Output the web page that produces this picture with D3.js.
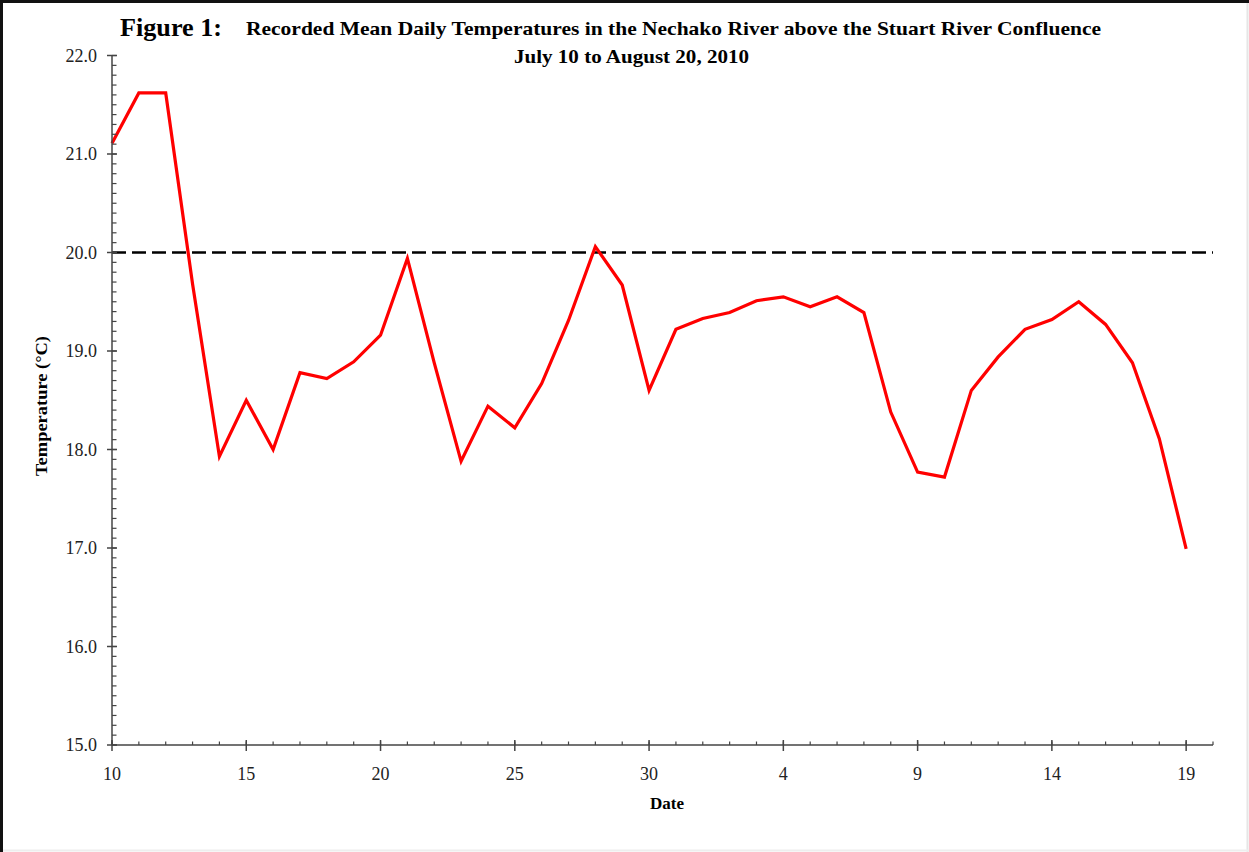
<!DOCTYPE html>
<html>
<head>
<meta charset="utf-8">
<script src="https://cdn.jsdelivr.net/npm/d3@7"></script>
<style>
  html, body { margin: 0; padding: 0; background: #fff; }
  svg { display: block; }
</style>
</head>
<body>
<svg id="chart" width="1249" height="852"></svg>
<script>
// ---- Data ----
const dates = [
  "2010-07-10","2010-07-11","2010-07-12","2010-07-13","2010-07-14","2010-07-15","2010-07-16",
  "2010-07-17","2010-07-18","2010-07-19","2010-07-20","2010-07-21","2010-07-22","2010-07-23",
  "2010-07-24","2010-07-25","2010-07-26","2010-07-27","2010-07-28","2010-07-29","2010-07-30",
  "2010-07-31","2010-08-01","2010-08-02","2010-08-03","2010-08-04","2010-08-05","2010-08-06",
  "2010-08-07","2010-08-08","2010-08-09","2010-08-10","2010-08-11","2010-08-12","2010-08-13",
  "2010-08-14","2010-08-15","2010-08-16","2010-08-17","2010-08-18","2010-08-19"
];
const temps = [
  21.11, 21.62, 21.62, 19.68, 17.93, 18.50, 18.00,
  18.78, 18.72, 18.89, 19.16, 19.94, 18.88, 17.88,
  18.44, 18.22, 18.67, 19.31, 20.06, 19.67, 18.60,
  19.22, 19.33, 19.39, 19.51, 19.55, 19.45, 19.55,
  19.39, 18.38, 17.77, 17.72, 18.60, 18.94, 19.22,
  19.32, 19.50, 19.27, 18.88, 18.11, 16.99
];
const threshold = 20.0;
const xTickDates = ["2010-07-10","2010-07-15","2010-07-20","2010-07-25","2010-07-30",
                    "2010-08-04","2010-08-09","2010-08-14","2010-08-19"];
const xTickLabels = ["10","15","20","25","30","4","9","14","19"];
const yTicks = [15, 16, 17, 18, 19, 20, 21, 22];
const yTickLabels = ["15.0","16.0","17.0","18.0","19.0","20.0","21.0","22.0"];
const titleFig = "Figure 1:";
const titleLine1 = "Recorded Mean Daily Temperatures in the Nechako River above the Stuart River Confluence";
const titleLine2 = "July 10 to August 20, 2010";
const xLabel = "Date";
const yLabel = "Temperature (\u00B0C)";

(function () {
// ---- Layout ----
const parse = d3.utcParse("%Y-%m-%d");
const data = dates.map((d, i) => ({ date: parse(d), t: temps[i] }));
const svg = d3.select("#chart");
const W = 1249, H = 852;
const mLeft = 112, mRight = 1213, mTop = 55.5, mBottom = 745;
const serif = "'Liberation Serif', 'Times New Roman', serif";

const x = d3.scaleUtc()
  .domain([parse("2010-07-10"), parse("2010-08-20")])
  .range([mLeft, mRight]);
const y = d3.scaleLinear().domain([15, 22]).range([mBottom, mTop]);

// frame
svg.append("rect").attr("x", 0).attr("y", 0).attr("width", W).attr("height", H).attr("fill", "#fff");
svg.append("line").attr("x1", W - 1.5).attr("x2", W - 1.5).attr("y1", 0).attr("y2", H)
  .attr("stroke", "#e6e6e6").attr("stroke-width", 2);
svg.append("line").attr("x1", 0).attr("x2", W).attr("y1", H - 1.5).attr("y2", H - 1.5)
  .attr("stroke", "#eeeeee").attr("stroke-width", 2);
svg.append("line").attr("x1", 1.5).attr("x2", 1.5).attr("y1", 0).attr("y2", H)
  .attr("stroke", "#111").attr("stroke-width", 3);
svg.append("line").attr("x1", 0).attr("x2", W).attr("y1", 1.5).attr("y2", 1.5)
  .attr("stroke", "#111").attr("stroke-width", 3);

// threshold dashed line
svg.append("line")
  .attr("x1", x.range()[0]).attr("x2", x.range()[1])
  .attr("y1", y(threshold)).attr("y2", y(threshold))
  .attr("stroke", "#000").attr("stroke-width", 2.6)
  .attr("stroke-dasharray", "14,6");

// data line
const line = d3.line().x(d => x(d.date)).y(d => y(d.t));
svg.append("path").datum(data)
  .attr("d", line)
  .attr("fill", "none").attr("stroke", "#ff0000")
  .attr("stroke-width", 3.2).attr("stroke-linejoin", "miter");

const axisColor = "#444";

// ---- Y axis ----
const yMinor = d3.range(150, 221).map(v => v / 10);
const gy = svg.append("g").attr("transform", `translate(${mLeft},0)`);
gy.append("line").attr("x1", 0).attr("x2", 0).attr("y1", y(22)).attr("y2", y(15))
  .attr("stroke", axisColor).attr("stroke-width", 1.5);
gy.selectAll("line.minor").data(yMinor).join("line").attr("class", "minor")
  .attr("x1", 0).attr("x2", 4.5).attr("y1", d => y(d)).attr("y2", d => y(d))
  .attr("stroke", axisColor).attr("stroke-width", 1.2);
gy.selectAll("line.major").data(yTicks).join("line").attr("class", "major")
  .attr("x1", -5).attr("x2", 5).attr("y1", d => y(d)).attr("y2", d => y(d))
  .attr("stroke", axisColor).attr("stroke-width", 1.5);
gy.selectAll("text").data(yTicks).join("text")
  .attr("x", -15).attr("y", d => y(d)).attr("dy", "0.34em")
  .attr("text-anchor", "end")
  .attr("font-family", serif).attr("font-size", 18).attr("fill", "#222")
  .text((d, i) => yTickLabels[i]);

// ---- X axis ----
const xMinor = d3.utcDay.range(parse("2010-07-10"), parse("2010-08-21"));
const gx = svg.append("g").attr("transform", `translate(0,${mBottom})`);
gx.append("line").attr("x1", mLeft).attr("x2", mRight).attr("y1", 0).attr("y2", 0)
  .attr("stroke", axisColor).attr("stroke-width", 1.5);
gx.selectAll("line.minor").data(xMinor).join("line").attr("class", "minor")
  .attr("x1", d => x(d)).attr("x2", d => x(d)).attr("y1", 0).attr("y2", -3.5)
  .attr("stroke", axisColor).attr("stroke-width", 1.2);
gx.selectAll("line.major").data(xTickDates).join("line").attr("class", "major")
  .attr("x1", d => x(parse(d))).attr("x2", d => x(parse(d))).attr("y1", -5).attr("y2", 6)
  .attr("stroke", axisColor).attr("stroke-width", 1.5);
gx.selectAll("text").data(xTickDates).join("text")
  .attr("x", d => x(parse(d))).attr("y", 35)
  .attr("text-anchor", "middle")
  .attr("font-family", serif).attr("font-size", 18).attr("fill", "#222")
  .text((d, i) => xTickLabels[i]);

// ---- Titles and labels ----
function fitText(sel, target) {
  const w = sel.node().getComputedTextLength();
  if (w > 0) sel.attr("textLength", target).attr("lengthAdjust", "spacingAndGlyphs");
}
const tFig = svg.append("text").attr("x", 120).attr("y", 36)
  .attr("font-family", serif).attr("font-weight", "bold").attr("font-size", 25)
  .attr("fill", "#000").text(titleFig);
fitText(tFig, 102);
const t1 = svg.append("text").attr("x", 246).attr("y", 35)
  .attr("font-family", serif).attr("font-weight", "bold").attr("font-size", 19)
  .attr("fill", "#000").text(titleLine1);
fitText(t1, 855);
const t2 = svg.append("text").attr("x", 514).attr("y", 63)
  .attr("font-family", serif).attr("font-weight", "bold").attr("font-size", 19)
  .attr("fill", "#000").text(titleLine2);
fitText(t2, 235);

svg.append("text").attr("x", 667).attr("y", 809)
  .attr("text-anchor", "middle")
  .attr("font-family", serif).attr("font-weight", "bold").attr("font-size", 17)
  .attr("fill", "#000").text(xLabel);
const yl = svg.append("text")
  .attr("transform", "translate(47,406) rotate(-90)")
  .attr("text-anchor", "middle")
  .attr("font-family", serif).attr("font-weight", "bold").attr("font-size", 17)
  .attr("fill", "#000").text(yLabel);
fitText(yl, 140);
})();
</script>
</body>
</html>
